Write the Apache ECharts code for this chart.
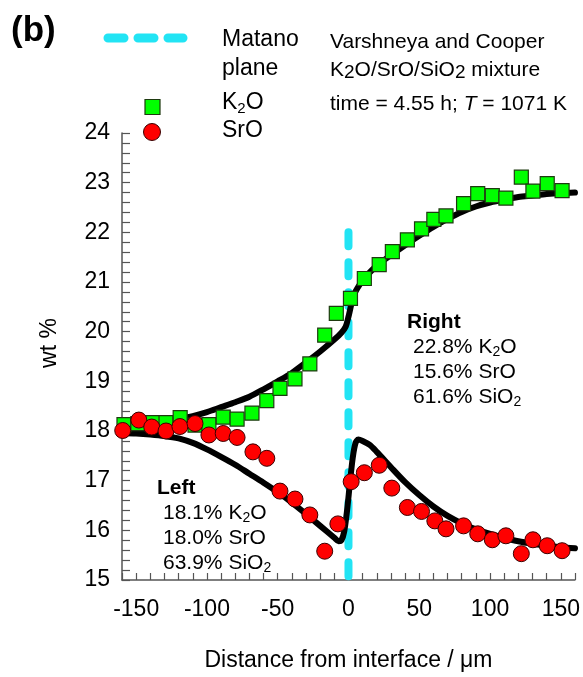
<!DOCTYPE html>
<html>
<head>
<meta charset="utf-8">
<script src="https://cdn.jsdelivr.net/npm/echarts@6/dist/echarts.min.js"></script>
<style>
  html, body { margin: 0; padding: 0; background: #fff; }
  #chart { width: 583px; height: 677px; }
</style>
</head>
<body>
<div id="chart"></div>
<script>
const FONT = '"Liberation Sans", Arial, Helvetica, sans-serif';

// Measured K2O profile: distance from interface (µm) and wt %
const k2oX = [-158.6, -148.8, -138.3, -128.9, -118.9, -108.4, -98.6, -88.5, -78.7, -68.2,
              -57.7, -48.4, -37.8, -27.3, -16.8, -8.6, 1.4, 11.2, 21.7, 31.0,
              41.6, 51.6, 60.3, 68.9, 81.3, 91.3, 101.6, 111.2, 122.1, 130.3,
              140.4, 150.9];
const k2oY = [18.13, 18.15, 18.17, 18.17, 18.27, 18.12, 18.13, 18.28, 18.24, 18.36,
              18.61, 18.86, 19.05, 19.35, 19.93, 20.37, 20.67, 21.07, 21.35, 21.61,
              21.85, 22.07, 22.26, 22.33, 22.58, 22.78, 22.74, 22.69, 23.11, 22.83,
              22.98, 22.84];

// Measured SrO profile
const sroX = [-159.5, -148.1, -139.0, -128.9, -119.1, -108.4, -98.6, -88.5, -78.7, -67.5,
              -57.7, -48.4, -37.8, -27.3, -16.8, -7.5, 1.9, 11.2, 21.7, 30.6,
              41.6, 51.6, 61.0, 68.9, 81.3, 91.3, 101.6, 111.2, 122.1, 130.3,
              140.4, 150.9];
const sroY = [18.01, 18.22, 18.08, 18.00, 18.09, 18.15, 17.92, 17.95, 17.87, 17.58,
              17.45, 16.79, 16.63, 16.31, 15.58, 16.13, 16.98, 17.16, 17.31, 16.85,
              16.46, 16.38, 16.19, 16.03, 16.09, 15.93, 15.81, 15.89, 15.53, 15.81,
              15.69, 15.59];

// Fitted diffusion profiles
const k2oFitX = [-160, -150, -140, -130, -120, -110, -100, -90, -80, -70,
                 -60, -50, -40, -30, -20, -10, -5, -2, 0, 2,
                 4, 8, 12, 20, 30, 40, 50, 60, 70, 80,
                 90, 100, 110, 120, 130, 140, 150, 160];
const k2oFitY = [18.12, 18.13, 18.16, 18.20, 18.24, 18.30, 18.38, 18.48, 18.58, 18.69,
                 18.84, 19.00, 19.17, 19.38, 19.60, 19.84, 19.98, 20.10, 20.30, 20.55,
                 20.75, 20.95, 21.10, 21.33, 21.54, 21.74, 21.93, 22.11, 22.27, 22.41,
                 22.52, 22.60, 22.66, 22.71, 22.74, 22.77, 22.79, 22.80];

const sroFitX = [-160, -150, -140, -130, -120, -110, -100, -90, -80, -70,
                 -60, -50, -40, -30, -20, -10, -7, -5, -3, -1,
                 1, 3, 5, 7, 10, 15, 20, 30, 40, 50,
                 60, 70, 80, 90, 100, 110, 120, 130, 140, 150, 160];
const sroFitY = [17.96, 17.95, 17.93, 17.90, 17.85, 17.76, 17.63, 17.48, 17.32, 17.14,
                 16.96, 16.77, 16.56, 16.33, 16.09, 15.85, 15.78, 15.80, 15.98, 16.40,
                 16.95, 17.46, 17.76, 17.83, 17.80, 17.72, 17.58, 17.27, 16.97, 16.71,
                 16.48, 16.29, 16.14, 16.02, 15.93, 15.85, 15.78, 15.73, 15.69, 15.66, 15.64];

// Matano plane
const matanoX = [0, 0];
const matanoY = [22.0, 15.0];

// Tick labels shown on the axes
const xTickLabels = [-150, -100, -50, 0, 50, 100, 150];
const yTickLabels = [15, 16, 17, 18, 19, 20, 21, 22, 23, 24];

const zip = (xs, ys) => xs.map((x, i) => [x, ys[i]]);

const CYAN = '#22e4f4';
const AXIS = '#555';

// One line of annotation text; {s|..} tokens are subscripts dropped by subShift px
function label(x, y, text, size, subSize, subShift, align) {
  const lh = size + 4;
  const subH = Math.max(2, (lh / 2 - subShift) * 2);
  return {
    type: 'text',
    x: x, y: y,
    z: 100,
    style: {
      text: text,
      align: align || 'left',
      verticalAlign: 'middle',
      rich: {
        n: { fontSize: size, fontFamily: FONT, fill: '#000', lineHeight: lh, verticalAlign: 'middle' },
        b: { fontSize: size, fontFamily: FONT, fill: '#000', lineHeight: lh, verticalAlign: 'middle', fontWeight: 'bold' },
        i: { fontSize: size, fontFamily: FONT, fill: '#000', lineHeight: lh, verticalAlign: 'middle', fontStyle: 'italic' },
        s: { fontSize: subSize, fontFamily: FONT, fill: '#000', lineHeight: subH, verticalAlign: 'bottom' }
      }
    }
  };
}

const chart = echarts.init(document.getElementById('chart'), null, { renderer: 'canvas' });

const option = {
  backgroundColor: '#fff',
  animation: false,
  grid: { left: 122, right: 7, top: 133, bottom: 94 },
  xAxis: {
    type: 'value',
    min: -160, max: 160, interval: 10,
    name: 'Distance from interface / \u03bcm',
    nameLocation: 'middle',
    nameGap: 69,
    nameTextStyle: { fontSize: 23, fontFamily: FONT, color: '#000' },
    axisLine: { show: true, onZero: false, lineStyle: { color: AXIS, width: 1.5 } },
    axisTick: { show: true, inside: true, length: 7, lineStyle: { color: AXIS, width: 1.2 } },
    axisLabel: {
      fontSize: 23, fontFamily: FONT, color: '#000', margin: 18,
      showMinLabel: true, showMaxLabel: true,
      formatter: v => (xTickLabels.indexOf(Math.round(v)) >= 0 ? String(Math.round(v)) : '')
    },
    splitLine: { show: false }
  },
  yAxis: {
    type: 'value',
    min: 15, max: 24, interval: 0.2,
    axisLine: { show: true, onZero: false, lineStyle: { color: AXIS, width: 1.5 } },
    axisTick: { show: true, inside: true, length: 8, lineStyle: { color: AXIS, width: 1.2 } },
    axisLabel: {
      fontSize: 23, fontFamily: FONT, color: '#000', margin: 12,
      showMinLabel: true, showMaxLabel: true,
      formatter: v => {
        const r = Math.round(v);
        return (Math.abs(v - r) < 1e-6 && yTickLabels.indexOf(r) >= 0) ? String(r) : '';
      }
    },
    splitLine: { show: false }
  },
  series: [
    {
      name: 'Matano plane',
      type: 'line',
      data: zip(matanoX, matanoY),
      symbol: 'none',
      silent: true,
      z: 1,
      lineStyle: { color: CYAN, width: 8, type: [14, 16], cap: 'round' }
    },
    {
      name: 'K2O fit',
      type: 'line',
      data: zip(k2oFitX, k2oFitY),
      symbol: 'none',
      smooth: 0.3,
      silent: true,
      z: 2,
      lineStyle: { color: '#000', width: 6, cap: 'round', join: 'round' }
    },
    {
      name: 'SrO fit',
      type: 'line',
      data: zip(sroFitX, sroFitY),
      symbol: 'none',
      smooth: 0.3,
      silent: true,
      z: 2,
      lineStyle: { color: '#000', width: 6, cap: 'round', join: 'round' }
    },
    {
      name: 'K2O',
      type: 'scatter',
      data: zip(k2oX, k2oY),
      symbol: 'rect',
      symbolSize: 14,
      z: 3,
      itemStyle: { color: '#00ff00', borderColor: '#1e3a10', borderWidth: 1.2, opacity: 1 }
    },
    {
      name: 'SrO',
      type: 'scatter',
      data: zip(sroX, sroY),
      symbol: 'circle',
      symbolSize: 16,
      z: 4,
      itemStyle: { color: '#ff0000', borderColor: '#3a0000', borderWidth: 1, opacity: 1 }
    }
  ],
  graphic: [
    // panel letter
    { type: 'text', x: 11, y: 31, z: 100,
      style: { text: '(b)', font: 'bold 35px ' + FONT, fill: '#000', verticalAlign: 'middle' } },
    // key: Matano plane
    { type: 'line', z: 100,
      shape: { x1: 108, y1: 38, x2: 183, y2: 38 },
      style: { stroke: CYAN, lineWidth: 9, lineDash: [16, 14], lineCap: 'round' } },
    label(222, 40, '{n|Matano}', 23, 15, 7),
    label(222, 69, '{n|plane}', 23, 15, 7),
    // key: K2O
    { type: 'rect', z: 100,
      shape: { x: 145, y: 99.5, width: 15, height: 15 },
      style: { fill: '#00ff00', stroke: '#1e3a10', lineWidth: 1.2 } },
    label(222, 103, '{n|K}{s|2}{n|O}', 23, 15, 8),
    // key: SrO
    { type: 'circle', z: 100,
      shape: { cx: 152, cy: 132, r: 8.5 },
      style: { fill: '#ff0000', stroke: '#3a0000', lineWidth: 1 } },
    label(222, 131, '{n|SrO}', 23, 15, 7),
    // experiment description
    label(330, 42, '{n|Varshneya and Cooper}', 21, 19, 7),
    label(330, 70, '{n|K}{s|2}{n|O/SrO/SiO}{s|2}{n| mixture}', 21, 19, 8),
    label(330, 104, '{n|time = 4.55 h; }{i|T}{n| = 1071 K}', 21, 19, 7),
    // end-member compositions
    label(157, 488, '{b|Left}', 21, 14, 7),
    label(163, 513, '{n|18.1% K}{s|2}{n|O}', 21, 14, 7),
    label(163, 538, '{n|18.0% SrO}', 21, 14, 7),
    label(163, 563, '{n|63.9% SiO}{s|2}', 21, 14, 7),
    label(407, 322, '{b|Right}', 21, 14, 7),
    label(413, 347, '{n|22.8% K}{s|2}{n|O}', 21, 14, 7),
    label(413, 372, '{n|15.6% SrO}', 21, 14, 7),
    label(413, 397, '{n|61.6% SiO}{s|2}', 21, 14, 7),
    // y-axis title
    { type: 'text', x: 50, y: 343, rotation: Math.PI / 2, z: 100,
      style: { text: 'wt %', font: '23px ' + FONT, fill: '#000', align: 'center', verticalAlign: 'middle' } }
  ]
};

chart.setOption(option);
</script>
</body>
</html>
